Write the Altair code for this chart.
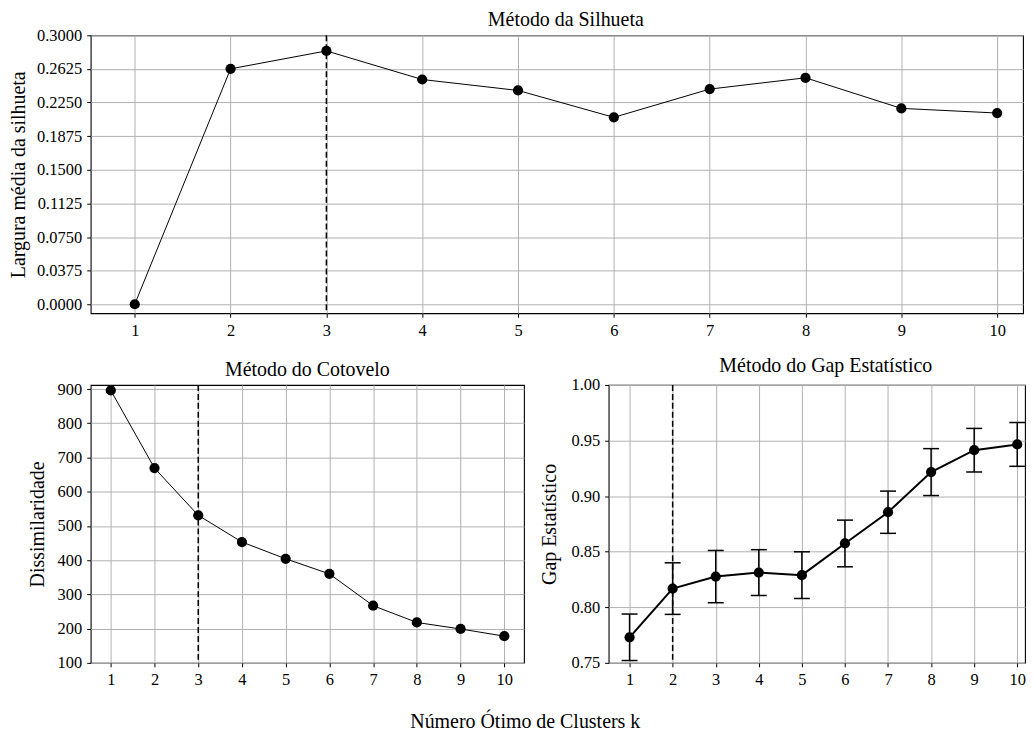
import altair as alt
import pandas as pd

FONT = "Liberation Serif"

k = list(range(1, 11))
silhouette = [0.0, 0.2626, 0.2826, 0.2507, 0.2385, 0.2085, 0.2400, 0.2526, 0.2185, 0.2133]
elbow = [896, 669, 531, 453, 404, 360, 267, 218, 199, 178]
gap = [0.7730, 0.8168, 0.8276, 0.8312, 0.8289, 0.8574, 0.8855, 0.9216, 0.9413, 0.9465]
gap_err = [0.0209, 0.0232, 0.0235, 0.0206, 0.0210, 0.0210, 0.0190, 0.0211, 0.0196, 0.0197]
best_sil = [3]
best_elbow = [3]
best_gap = [2]

sil_ticks = [round(0.0375 * i, 4) for i in range(9)]
elbow_ticks = list(range(100, 1000, 100))
gap_ticks = [0.75, 0.80, 0.85, 0.90, 0.95, 1.00]

df_sil = pd.DataFrame({"k": k, "v": silhouette})
df_elb = pd.DataFrame({"k": k, "v": elbow})
df_gap = pd.DataFrame({"k": k, "v": gap, "lo": [g - e for g, e in zip(gap, gap_err)],
                       "hi": [g + e for g, e in zip(gap, gap_err)]})

DASH = [6, 3]


def xenc(domain):
    return alt.X("k:Q", scale=alt.Scale(domain=domain, nice=False, zero=False),
                 axis=alt.Axis(values=k, format="d", title=None))


def panel(df, best, xdom, ydom, yticks, yfmt, ytitle, title, width, height, lw,
          dx=0, err=False, tpad=8, toff=0):
    x = xenc(xdom)
    y = alt.Y("v:Q", scale=alt.Scale(domain=ydom, nice=False, zero=False),
              axis=alt.Axis(values=yticks, format=yfmt, title=ytitle, titlePadding=tpad))
    vline = alt.Chart(pd.DataFrame({"k": best})).mark_rule(
        color="black", strokeDash=DASH, strokeWidth=1.5).encode(x="k:Q")
    line = alt.Chart(df).mark_line(color="black", strokeWidth=lw).encode(x, y)
    pts = alt.Chart(df).mark_circle(color="black", size=105, opacity=1).encode(x, y)
    layers = [vline, line]
    if err:
        bars = alt.Chart(df).mark_rule(color="black", strokeWidth=1.5).encode(
            x="k:Q", y="lo:Q", y2="hi:Q")
        cap_hi = alt.Chart(df).mark_rule(color="black", strokeWidth=1.5, xOffset=-8, x2Offset=8).encode(
            x="k:Q", x2="k:Q", y="hi:Q")
        cap_lo = alt.Chart(df).mark_rule(color="black", strokeWidth=1.5, xOffset=-8, x2Offset=8).encode(
            x="k:Q", x2="k:Q", y="lo:Q")
        layers += [bars, cap_hi, cap_lo]
    layers.append(pts)
    return alt.layer(*layers).properties(
        width=width, height=height,
        title=alt.TitleParams(title, anchor="middle", dx=dx, offset=toff))


top = panel(df_sil, best_sil, [0.54, 10.27], [-0.01, 0.3], sil_ticks, ".4f",
            "Largura média da silhueta", "Método da Silhueta", 936, 279, 1,
            dx=9, tpad=8, toff=-3)
left = panel(df_elb, best_elbow, [0.54, 10.45], [100, 912], elbow_ticks, "d",
             "Dissimilaridade", "Método do Cotovelo", 435, 279, 1, tpad=10, toff=1)
right = panel(df_gap, best_gap, [0.514, 10.18], [0.75, 1.0], gap_ticks, ".2f",
              "Gap Estatístico", "Método do Gap Estatístico", 418, 279, 2,
              dx=9, err=True, tpad=11, toff=1)

bottom = alt.hconcat(left, right, spacing=14)

chart = alt.vconcat(top, bottom, spacing=15).properties(
    title=alt.TitleParams("Número Ótimo de Clusters k", orient="bottom", anchor="middle",
                          offset=23, dx=8),
    padding={"left": 0, "top": 0, "right": 0, "bottom": 0},
).configure_axis(
    labelFont=FONT, titleFont=FONT, labelFontSize=16.5, titleFontSize=20,
    labelColor="black", titleColor="black", tickColor="black", tickSize=4,
    domain=False, gridColor="#b0b0b0", gridWidth=1, gridOpacity=1,
    titleFontWeight="normal", labelPadding=5,
).configure_view(stroke="black", strokeWidth=1.1).configure_title(
    font=FONT, fontSize=20, fontWeight="normal", color="black"
)

chart.save("out.html", embed_options={"renderer": "svg", "actions": False})
